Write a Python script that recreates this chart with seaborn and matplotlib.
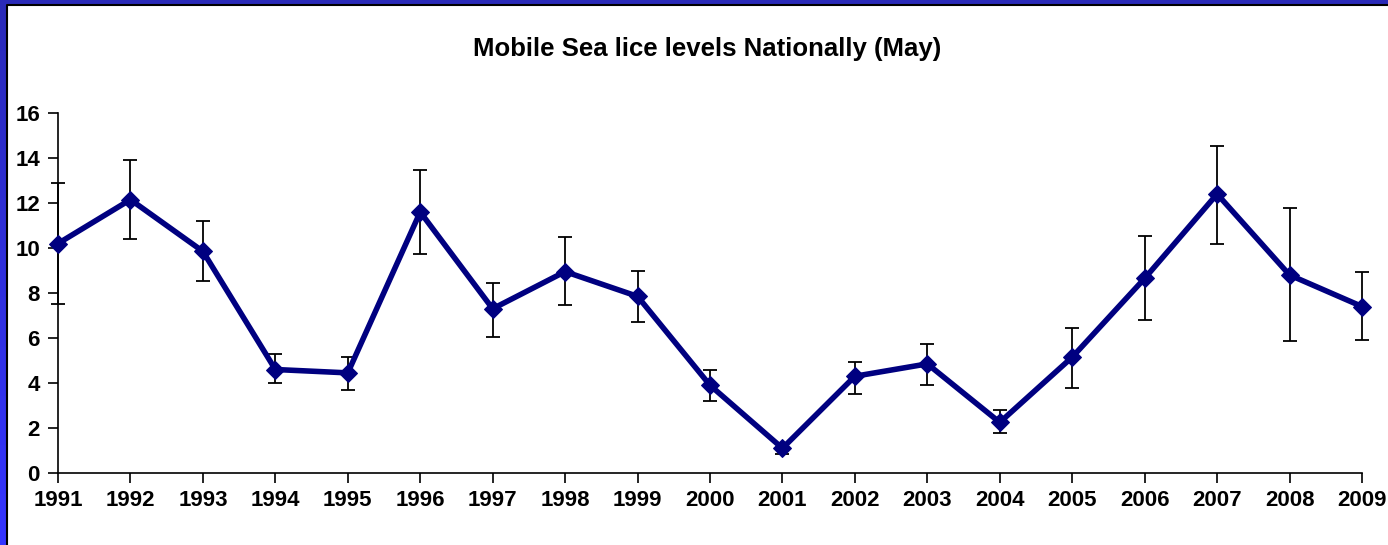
import numpy as np
import pandas as pd
import matplotlib
matplotlib.use('Agg')
import matplotlib.pyplot as plt
import seaborn as sns

# ---------------------------
# Data
# ---------------------------
years = [1991, 1992, 1993, 1994, 1995, 1996, 1997, 1998, 1999, 2000,
         2001, 2002, 2003, 2004, 2005, 2006, 2007, 2008, 2009]
lice = [10.2, 12.15, 9.85, 4.6, 4.45, 11.6, 7.3, 8.95, 7.85, 3.9,
        1.1, 4.3, 4.85, 2.25, 5.15, 8.65, 12.4, 8.8, 7.4]
err_upper = [12.9, 13.9, 11.2, 5.3, 5.15, 13.45, 8.45, 10.5, 9.0, 4.6,
             1.3, 4.95, 5.75, 2.8, 6.45, 10.55, 14.55, 11.8, 8.95]
err_lower = [7.5, 10.4, 8.55, 4.0, 3.7, 9.75, 6.05, 7.45, 6.7, 3.2,
             0.85, 3.5, 3.9, 1.8, 3.8, 6.8, 10.2, 5.85, 5.9]

df = pd.DataFrame({'Year': years, 'Lice': lice,
                   'Upper': err_upper, 'Lower': err_lower})

# ---------------------------
# Figure
# ---------------------------
sns.set_theme(style='ticks')
plt.rcParams['font.family'] = ['Liberation Sans', 'DejaVu Sans']
plt.rcParams['text.color'] = 'black'

fig = plt.figure(figsize=(13.88, 5.45), dpi=100)
fig.patch.set_facecolor('white')

# blue slide background strip (left and top), gradient
bg = fig.add_axes([0, 0, 1, 1], zorder=-10)
grad = np.linspace(0, 1, 256).reshape(-1, 1)
cmap = matplotlib.colors.LinearSegmentedColormap.from_list(
    'slide', ['#2a2ab8', '#3535ff'])
bg.imshow(grad, aspect='auto', cmap=cmap, extent=[0, 1, 0, 1], origin='upper')
x0, y1 = 7 / 1388, 1 - 5 / 545
bg.add_patch(plt.Rectangle((x0, 0), 1, y1, facecolor='white',
                           edgecolor='none', transform=bg.transAxes))
bg.plot([x0, x0, 1], [0, y1, y1], color='black', linewidth=1.5,
        transform=bg.transAxes)
bg.set_xlim(0, 1)
bg.set_ylim(0, 1)
bg.axis('off')

ax = fig.add_axes([58 / 1388, 1 - 473 / 545, (1362 - 58) / 1388, 360 / 545])
ax.set_facecolor('none')

navy = '#000080'
yerr = [df['Lice'] - df['Lower'], df['Upper'] - df['Lice']]
ax.errorbar(df['Year'], df['Lice'], yerr=yerr, fmt='none', ecolor='black',
            elinewidth=1.3, capsize=5, capthick=1.3, zorder=2, clip_on=False)
sns.lineplot(data=df, x='Year', y='Lice', ax=ax, color=navy, linewidth=4,
             marker='D', markersize=9, markeredgecolor=navy, zorder=3,
             clip_on=False)

ax.set_xlim(1991, 2009)
ax.set_ylim(0, 16)
ax.set_xticks(years)
ax.set_yticks(range(0, 17, 2))
ax.set_xlabel('')
ax.set_ylabel('')
sns.despine(ax=ax)
for s in ['left', 'bottom']:
    ax.spines[s].set_color('black')
    ax.spines[s].set_linewidth(1.2)
ax.tick_params(axis='both', direction='out', length=7, width=1.2,
               colors='black', labelsize=16)
ax.tick_params(axis='x', pad=5)
ax.tick_params(axis='y', pad=6)
for lbl in ax.get_xticklabels() + ax.get_yticklabels():
    lbl.set_fontweight('bold')

fig.text(707 / 1388, 1 - 49 / 545, 'Mobile Sea lice levels Nationally (May)',
         ha='center', va='center', fontsize=18.5, fontweight='bold',
         color='black')

plt.savefig('out.png', dpi=100)
